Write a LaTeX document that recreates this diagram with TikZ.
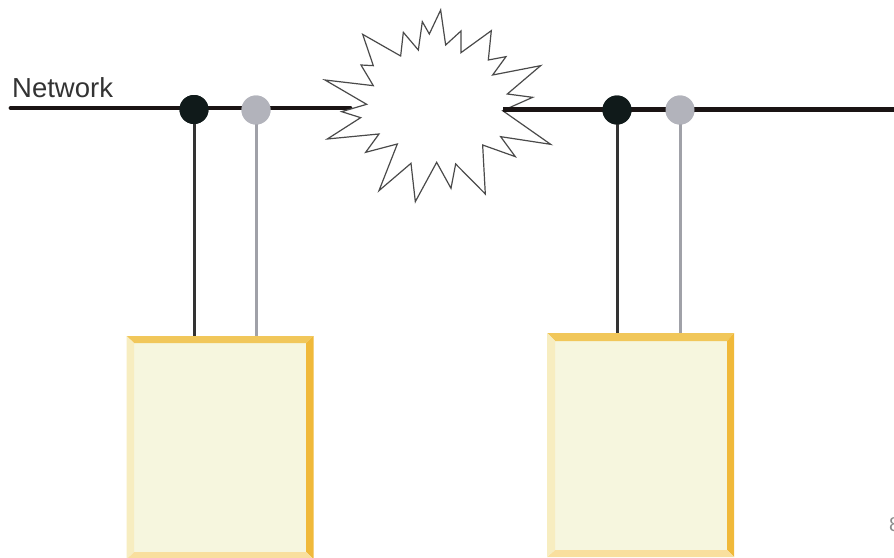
\documentclass[tikz,border=0pt]{standalone}
\usepackage{fontspec}
\setmainfont{Liberation Sans}
\definecolor{netblack}{HTML}{1A1414}
\definecolor{dotblack}{HTML}{101A1A}
\definecolor{dotgrey}{HTML}{B2B3BB}
\definecolor{boxfill}{HTML}{F6F6DE}
\definecolor{bevtop}{HTML}{F1C75A}
\definecolor{bevright}{HTML}{F0B93A}
\definecolor{bevleft}{HTML}{F7EDC0}
\definecolor{bevbottom}{HTML}{F9DF9E}
\definecolor{burstline}{HTML}{4A4A4A}
\tikzset{
  x=1pt,y=-1pt,
  netline/.style={line width=4.8pt,draw=netblack},
  blackdot/.style={circle,fill=dotblack,minimum size=29pt,inner sep=0pt},
  greydot/.style={circle,fill=dotgrey,minimum size=29pt,inner sep=0pt},
  blackdrop/.style={line width=3pt,draw=black!80},
  greydrop/.style={line width=3pt,draw=dotgrey!90!black},
  burst/.style={draw=burstline,line width=1.2pt,fill=white,line join=miter}
}
\newcommand{\bevelbox}[9]{%
  % #1 name, #2 ox0, #3 oy0, #4 ox1, #5 oy1, #6 ix0, #7 iy0, #8 ix1, #9 iy1
  \fill[boxfill] (#6,#7) rectangle (#8,#9);
  \fill[bevtop] (#2,#3) -- (#4,#3) -- (#8,#7) -- (#6,#7) -- cycle;
  \fill[bevright] (#4,#3) -- (#4,#5) -- (#8,#9) -- (#8,#7) -- cycle;
  \fill[bevbottom] (#2,#5) -- (#4,#5) -- (#8,#9) -- (#6,#9) -- cycle;
  \fill[bevleft] (#2,#3) -- (#2,#5) -- (#6,#9) -- (#6,#7) -- cycle;
  \coordinate (#1) at (#2,#3);
}
\begin{document}
\begin{tikzpicture}
\useasboundingbox (0,0) rectangle (894,557);
\clip (0,0) rectangle (894,557);
\fill[white] (0,0) rectangle (894,557);
% boxes
\bevelbox{boxL}{126.5}{336}{313.5}{559}{134}{343}{306}{552}
\bevelbox{boxR}{547}{333}{734}{557}{555}{341}{727}{550}
% named points
\coordinate (netL0) at (11,108);
\coordinate (netL1) at (350,108);
\coordinate (netR0) at (503,109.5);
\coordinate (netR1) at (894,109.5);
\coordinate (topA) at (194,336);
\coordinate (topB) at (256,336);
\coordinate (topC) at (617,333);
\coordinate (topD) at (680,333);
% network lines
\draw[netline,line cap=round] (netL0) -- (netL1);
% drops
\node[blackdot] (a) at (194,109.5) {};
\node[greydot] (b) at (256,110) {};
\node[blackdot] (c) at (617,110) {};
\node[greydot] (d) at (680,110) {};
\draw[blackdrop] (a.center) -- (topA);
\draw[greydrop] (b.center) -- (topB);
\draw[blackdrop] (c.center) -- (topC);
\draw[greydrop] (d.center) -- (topD);
% burst
\begin{scope}[shift={(310,0)},x=0.3333pt,y=-0.3333pt]
\draw[burst] (392,30) -- (407,135) -- (453,93) -- (453,158) -- (544,92) -- (535,180) -- (588,170) -- (548,225) -- (692,197) -- (592,282) -- (668,292) -- (578,332) -- (722,433) -- (572,410) -- (616,470) -- (518,435) -- (526,582) -- (437,492) -- (423,565) -- (380,487) -- (316,605) -- (303,490) -- (207,572) -- (262,432) -- (167,457) -- (207,402) -- (52,417) -- (152,353) -- (95,335) -- (170,313) -- (45,240) -- (190,257) -- (153,195) -- (190,197) -- (158,103) -- (272,168) -- (280,97) -- (325,150) -- (337,65) -- (358,102) -- cycle;
\end{scope}
\draw[netline] (netR0) -- (netR1);
\node[blackdot] at (a) {};
\node[greydot] at (b) {};
\node[blackdot] at (c) {};
\node[greydot] at (d) {};
% label
\node[anchor=base west,inner sep=0pt,text=black!80,font=\fontsize{27.5}{30}\selectfont] (net) at (12,97) {Network};
\node[anchor=west,inner sep=0pt,text=black!45,font=\fontsize{20}{22}\selectfont] (idmark) at (889,525) {8};
\end{tikzpicture}
\end{document}
